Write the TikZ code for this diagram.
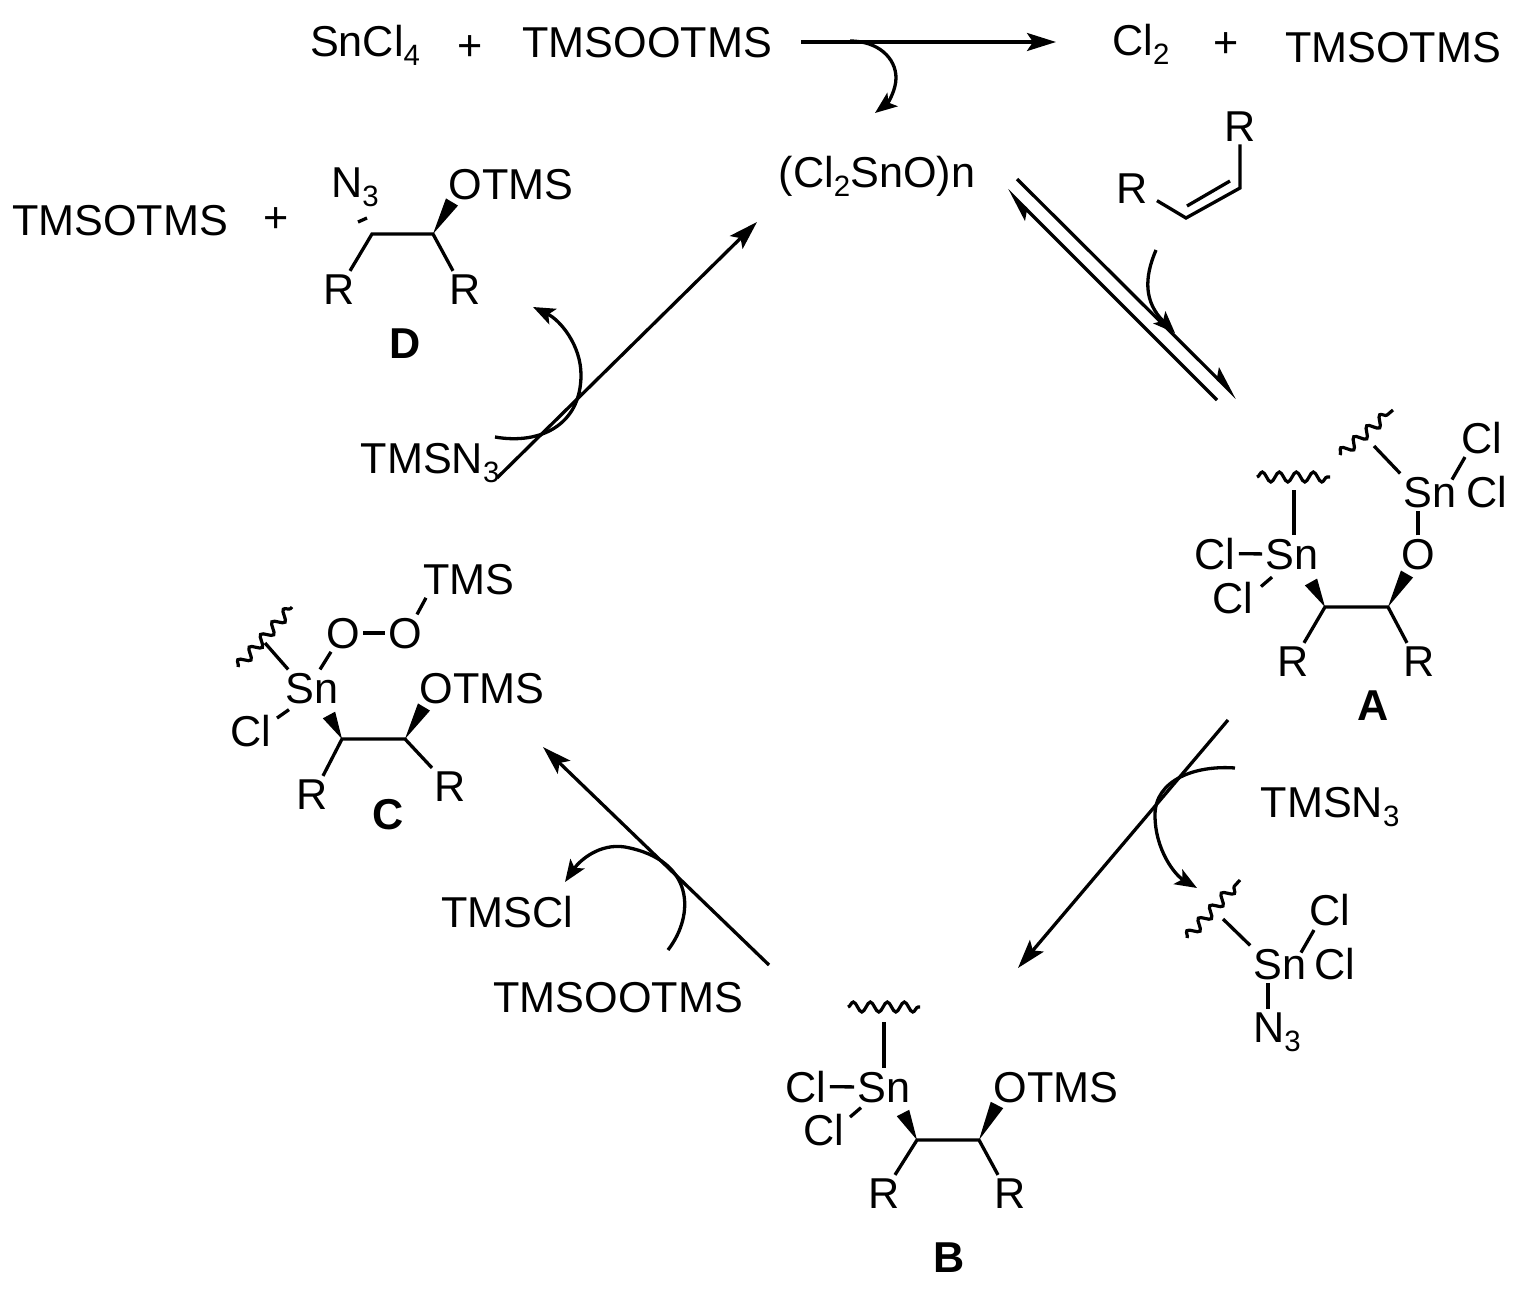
\documentclass[tikz,border=0pt]{standalone}
\usepackage{fontspec}
\setmainfont{Liberation Sans}
\usetikzlibrary{arrows.meta}
\usetikzlibrary{calc}
\usetikzlibrary{decorations.pathmorphing}
\newcommand{\chemsub}[1]{\raisebox{-0.23em}{\fontsize{14.7}{16}\selectfont #1}}
\newcommand{\wedgebond}[2]{\fill (#1) -- ($(#2)!3.5pt!90:(#1)$) -- ($(#2)!3.5pt!-90:(#1)$) -- cycle;}
\begin{document}
\begin{tikzpicture}[x=0.5pt,y=-0.5pt]
                \tikzstyle{every node}=[inner sep=1.5pt,anchor=base,font=\fontsize{21.6}{24}\selectfont]
                \tikzstyle{label}=[font=\fontsize{21.6}{24}\selectfont\bfseries]
                \tikzstyle{bond}=[line width=1.65pt]
                \tikzstyle{squiggle}=[line width=1.6pt,decorate,decoration={snake,amplitude=2.5pt,segment length=8.5pt}]
                \tikzstyle{rxn}=[line width=1.65pt,-{Stealth[length=14.5pt,width=9pt,inset=3pt]}]
                \tikzstyle{halfrxn}=[line width=1.65pt,-{Stealth[harpoon,length=14.5pt,width=9pt,inset=3pt]}]
                \tikzstyle{curly}=[line width=1.65pt,-{Stealth[length=11pt,width=8.5pt,inset=2.5pt]}]
                \useasboundingbox (0,0) rectangle (1528,1290);

                \node (sncl) at (365,56) {SnCl\chemsub{4}};
                \node (plus1) at (470,61) {+};
                \node (reag) at (647,57) {TMSOOTMS};
                \node (cl2) at (1141,55) {Cl\chemsub{2}};
                \node (plus2) at (1226,57) {+};
                \node (side1) at (1393,62) {TMSOTMS};
                \node (cat) at (877,187) {(Cl\chemsub{2}SnO)n};

                \coordinate (a1) at (801,42);
                \coordinate (a2) at (1056,42);
                \draw[rxn] (a1) -- (a2);
                \coordinate (k1) at (850,41);
                \coordinate (k2) at (896,78);
                \coordinate (k3) at (875,113);
                \draw[curly] (k1) .. controls (878,41) and (896,58) .. (k2) .. controls (896,90) and (888,103) .. (k3);

                \node (rE2) at (1240,141) {R};
                \node (rE1) at (1132,203) {R};
                \coordinate (cE1) at (1186,218);
                \coordinate (cE2) at (1240,188);
                \coordinate (dE1) at (1187,206);
                \coordinate (dE2) at (1230,181);
                \draw[bond] ([shift={(25,12.5)}]rE1.center) -- (cE1) -- (cE2) -- (rE2.south);
                \draw[bond] (dE1) -- (dE2);

                \coordinate (b1) at (1017,179);
                \coordinate (b2) at (1237,398);
                \coordinate (b3) at (1217,400);
                \coordinate (b4) at (1007,190);
                \draw[halfrxn] (b1) -- (b2);
                \draw[halfrxn] (b3) -- (b4);
                \coordinate (k4) at (1156,250);
                \coordinate (k5) at (1175,333);
                \draw[curly] (k4) .. controls (1144,278) and (1144,302) .. (k5);

                \node (snA) at (1292,569) {Sn};
                \node (clA1) at (1215,569) {Cl};
                \node (clA2) at (1233,613) {Cl};
                \node (oA) at (1418,569) {O};
                \node (snA2) at (1430,507) {Sn};
                \node (clA3) at (1482,453) {Cl};
                \node (clA4) at (1487,507) {Cl};
                \node (rA1) at (1293,676) {R};
                \node (rA2) at (1419,676) {R};
                \node[label] (lblA) at (1373,720) {A};
                \coordinate (cA1) at (1325,607);
                \coordinate (cA2) at (1388,607);
                \coordinate (wA1) at (1311,582);
                \coordinate (wA2) at (1407,574);
                \coordinate (tA1) at (1294,490);
                \coordinate (tA2) at (1374,446);
                \coordinate (sA1) at (1257,477);
                \coordinate (sA2) at (1330,477);
                \coordinate (sA3) at (1340,455);
                \coordinate (sA4) at (1393,410);
                \draw[squiggle] (sA1) -- (sA2);
                \draw[squiggle] (sA3) -- (sA4);
                \draw[bond] (tA1) -- ([xshift=1pt]snA.north);
                \draw[bond] (tA2) -- (snA2.north west);
                \draw[bond] (clA1) -- (snA);
                \draw[bond] ([shift={(28,-11)}]clA2.center) -- ([shift={(-20,23)}]snA.center);
                \draw[bond] (oA.north) -- (oA.north |- snA2.south);
                \draw[bond] ([shift={(22,-12.5)}]snA2.center) -- ([shift={(-17,19.5)}]clA3.center);
                \draw[bond] ([xshift=5.5pt]rA1.north) -- (cA1) -- (cA2) -- ([xshift=-6pt]rA2.north);
                \wedgebond{cA1}{wA1}
                \wedgebond{cA2}{wA2}

                \coordinate (b5) at (1228,720);
                \coordinate (b6) at (1018,968);
                \draw[rxn] (b5) -- (b6);
                \node (azR) at (1330,817) {TMSN\chemsub{3}};
                \coordinate (k6) at (1235,768);
                \coordinate (k7) at (1155,815);
                \coordinate (k8) at (1197,888);
                \draw[curly] (k6) .. controls (1195,765) and (1155,780) .. (k7) .. controls (1155,850) and (1175,875) .. (k8);

                \node (snF) at (1280,979) {Sn};
                \node (clF1) at (1330,925) {Cl};
                \node (clF2) at (1335,979) {Cl};
                \node (nF) at (1277,1042) {N\chemsub{3}};
                \coordinate (sF1) at (1187,938);
                \coordinate (sF2) at (1240,880);
                \coordinate (tF) at (1223,919);
                \draw[squiggle] (sF1) -- (sF2);
                \draw[bond] (tF) -- (snF.north west);
                \draw[bond] ([shift={(21,-11.5)}]snF.center) -- ([shift={(-16,20.5)}]clF1.center);
                \draw[bond] ([xshift=-6pt]snF.south) -- ([xshift=-4.5pt]nF.north);

                \node (snB) at (884,1102) {Sn};
                \node (clB1) at (806,1102) {Cl};
                \node (clB2) at (824,1145) {Cl};
                \node (otmsB) at (1056,1102) {OTMS};
                \node (rB1) at (884,1208) {R};
                \node (rB2) at (1010,1208) {R};
                \node[label] (lblB) at (949,1272) {B};
                \coordinate (cB1) at (917,1140);
                \coordinate (cB2) at (979,1140);
                \coordinate (wB1) at (903,1113);
                \coordinate (wB2) at (997,1105);
                \coordinate (tB) at (884,1022);
                \coordinate (sB1) at (848,1007);
                \coordinate (sB2) at (920,1007);
                \draw[squiggle] (sB1) -- (sB2);
                \draw[bond] (tB) -- (snB.north);
                \draw[bond] (clB1) -- (snB);
                \draw[bond] ([shift={(26,-12.5)}]clB2.center) -- ([shift={(-23,20.5)}]snB.center);
                \draw[bond] ([xshift=5.5pt]rB1.north) -- (cB1) -- (cB2) -- ([xshift=-6pt]rB2.north);
                \wedgebond{cB1}{wB1}
                \wedgebond{cB2}{wB2}

                \coordinate (b7) at (769,965);
                \coordinate (b8) at (543,747);
                \draw[rxn] (b7) -- (b8);
                \node (peroxL) at (618,1012) {TMSOOTMS};
                \node (tmscl) at (507,927) {TMSCl};
                \coordinate (k9) at (668,950);
                \coordinate (k10) at (625,847);
                \coordinate (k11) at (565,882);
                \draw[curly] (k9) .. controls (695,915) and (695,860) .. (k10) .. controls (600,843) and (580,860) .. (k11);

                \node (snC) at (312,703) {Sn};
                \node (clC) at (251,746) {Cl};
                \node (oC1) at (343,648) {O};
                \node (oC2) at (405,648) {O};
                \node (tmsC) at (469,594) {TMS};
                \node (otmsC) at (482,703) {OTMS};
                \node (rC1) at (312,809) {R};
                \node (rC2) at (450,801) {R};
                \node[label] (lblC) at (388,829) {C};
                \coordinate (cC1) at (342,739);
                \coordinate (cC2) at (405,739);
                \coordinate (wC1) at (329,715);
                \coordinate (wC2) at (424,707);
                \coordinate (tC) at (265,643);
                \coordinate (sC1) at (238,667);
                \coordinate (sC2) at (292,607);
                \draw[squiggle] (sC1) -- (sC2);
                \draw[bond] (tC) -- ([xshift=3pt]snC.north west);
                \draw[bond] ([xshift=4pt]snC.north) -- ([xshift=-6pt]oC1.south);
                \draw[bond] (oC1) -- (oC2);
                \draw[bond] ([xshift=6pt]oC2.north) -- ([xshift=-21.5pt]tmsC.south);
                \draw[bond] ([shift={(26,-12.5)}]clC.center) -- ([shift={(-23,21.5)}]snC.center);
                \draw[bond] ([xshift=5.5pt]rC1.north) -- (cC1) -- (cC2) -- ([xshift=-9pt]rC2.north);
                \wedgebond{cC1}{wC1}
                \wedgebond{cC2}{wC2}

                \coordinate (b9) at (497,478);
                \coordinate (b10) at (757,222);
                \draw[rxn] (b9) -- (b10);
                \node (azL) at (430,473) {TMSN\chemsub{3}};
                \coordinate (k12) at (495,437);
                \coordinate (k13) at (581,375);
                \coordinate (k14) at (533,307);
                \draw[curly] (k12) .. controls (540,445) and (581,425) .. (k13) .. controls (581,345) and (560,320) .. (k14);

                \node (side2) at (120,235) {TMSOTMS};
                \node (plus3) at (276,232) {+};
                \node (nD) at (355,197) {N\chemsub{3}};
                \node (otmsD) at (511,199) {OTMS};
                \node (rD1) at (339,304) {R};
                \node (rD2) at (465,304) {R};
                \node[label] (lblD) at (405,358) {D};
                \coordinate (cD1) at (372,234);
                \coordinate (cD2) at (433,234);
                \coordinate (wD) at (452,202);
                \coordinate (hD1) at (358,222);
                \coordinate (hD2) at (367,218);
                \draw[bond] ([xshift=5.5pt]rD1.north) -- (cD1) -- (cD2) -- ([xshift=-6pt]rD2.north);
                \draw[bond] (hD1) -- (hD2);
                \wedgebond{cD2}{wD}
            \end{tikzpicture}
\end{document}
